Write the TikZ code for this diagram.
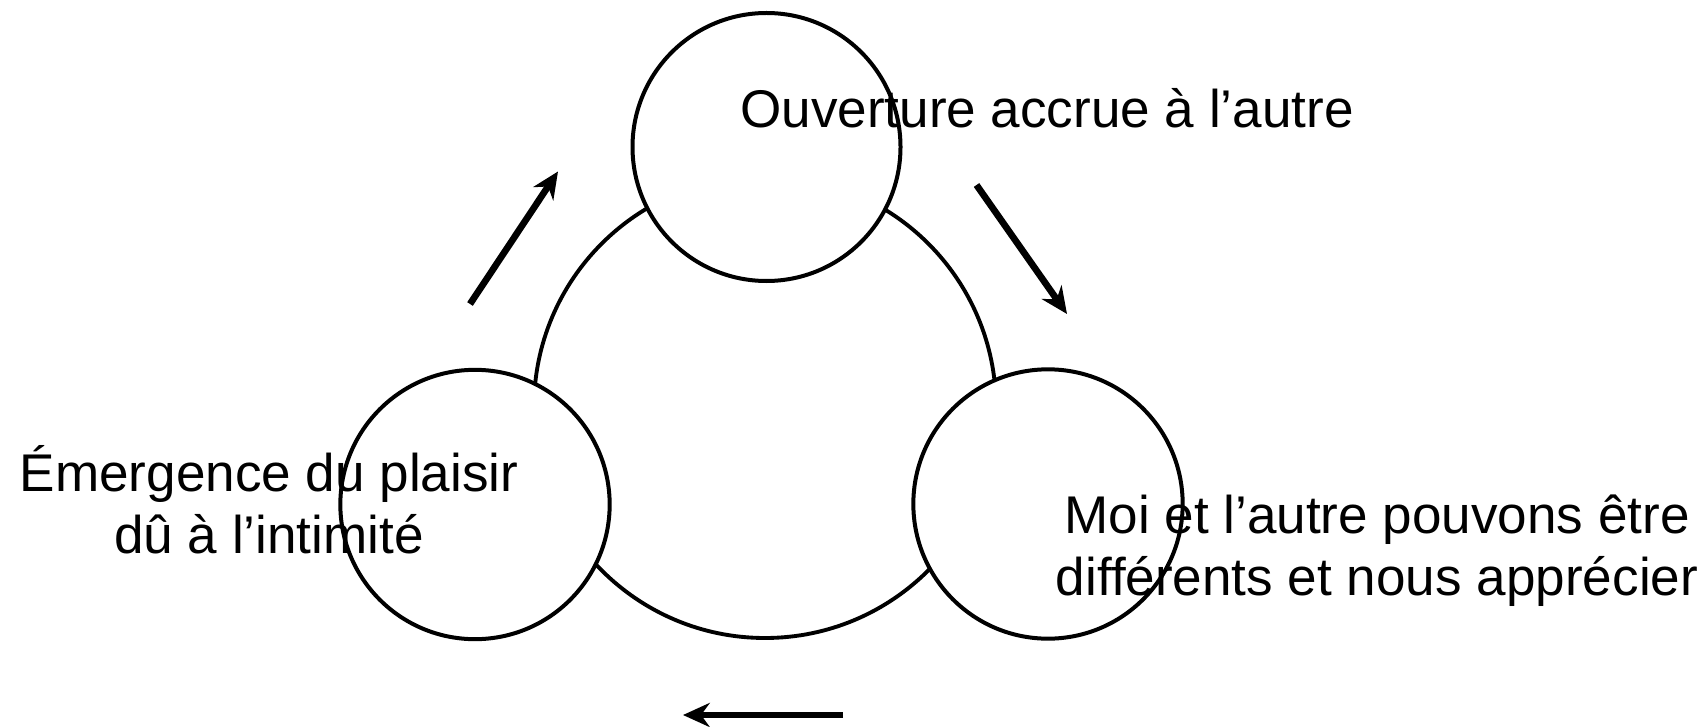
\documentclass[tikz,border=0pt]{standalone}
\usepackage{fontspec}
\setmainfont{Liberation Sans}
\usetikzlibrary{arrows.meta}
\begin{document}
\begin{tikzpicture}[x=0.75pt,y=-0.75pt,
  ring/.style={circle,draw=black,line width=3pt,fill=white,inner sep=0pt},
  bigring/.style={circle,draw=black,line width=2.9pt,inner sep=0pt},
  lbl/.style={font=\fontsize{39.8}{46.5}\selectfont,align=center,inner sep=0pt,anchor=base},
  flow/.style={line width=5pt,-{Stealth[length=20pt,width=18pt,inset=6.5pt]}}]
\useasboundingbox (0,0) rectangle (1705,727);
\node[bigring,minimum size=346.5pt] (big) at (765,407) {};
\node[ring,minimum size=201pt] (top) at (766.5,147) {};
\node[ring,minimum size=202pt] (left) at (475,504.5) {};
\node[ring,minimum size=202pt] (right) at (1048,504) {};
\node[lbl] (ttop) at (1047,128) {Ouverture accrue à l’autre};
\node[lbl] (tleft) at (269,553) {Émergence du plaisir\\dû à l’intimité};
\node[lbl] (tright) at (1377,595) {Moi et l’autre pouvons être\\différents et nous apprécier};
\coordinate (a1s) at (470,304);
\coordinate (a1e) at (558,171.5);
\coordinate (a2s) at (976.5,185);
\coordinate (a2e) at (1067,314);
\coordinate (a3s) at (843,715);
\coordinate (a3e) at (683,715);
\draw[flow] (a1s) -- (a1e);
\draw[flow] (a2s) -- (a2e);
\draw[flow] (a3s) -- (a3e);
\end{tikzpicture}
\end{document}
